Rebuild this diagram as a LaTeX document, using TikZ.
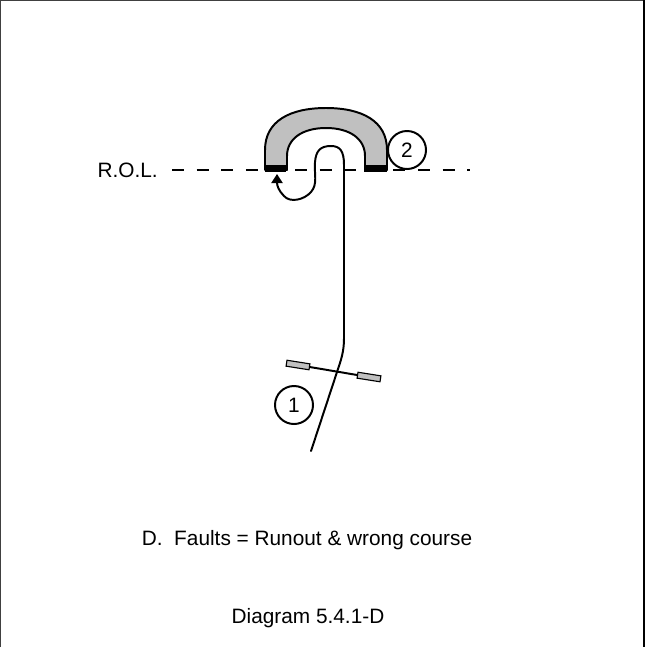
\documentclass[tikz,border=0pt]{standalone}
\usepackage{fontspec}
\setmainfont{Liberation Sans}
\usetikzlibrary{arrows.meta, positioning, calc}

\begin{document}
\begin{tikzpicture}[
    x=0.025cm, y=-0.025cm,
    every node/.style={font=\fontsize{14.8}{17}\selectfont},
]

% ---------------------------------------------------------------- colours
\definecolor{c1}{HTML}{000000}   % lines, paths, outlines
\definecolor{c2}{HTML}{C0C0C0}   % the hoop and its wires
\definecolor{framecolor}{HTML}{404040}

% ---------------------------------------------------------------- styles
\tikzset{
    ballnum/.style={
        circle, draw=c1, line width=1.4pt, inner sep=0pt,
        minimum size=0.95cm, text=c1,
    },
    wire/.style={
        rectangle, draw=c1, line width=0.8pt, fill=c2,
        minimum width=0.58cm, minimum height=0.15cm, inner sep=0pt,
    },
    route/.style={c1, line width=1.4pt, line cap=round, line join=round},
}

\useasboundingbox (0,0) rectangle (648,647);

% ================================================================
% GEOMETRY (one unit = one pixel, y downwards)
%   R.O.L. line   y = 170,  x in [172, 470]
%   hoop          x in [265, 388], top at y = 108
%   wires         centred on (336, 371)
%   captions      y = 540 and y = 618
% ================================================================

% ---------------------------------------------------------------- frame
\draw[framecolor, line width=1pt] (0.7,647) -- (0.7,0.7) -- (644,0.7);
\draw[c1, line width=1.4pt] (644,0) -- (644,647);

% ---------------------------------------------------------------- R.O.L.
\node[anchor=base east, inner sep=0pt, text=c1] (rol) at (158,177) {R.O.L.};
\coordinate (rolA) at (172,170);
\coordinate (rolB) at (470,170);
\draw[c1, line width=2.1pt, dash pattern=on 8.5pt off 9pt] (rolA) -- (rolB);

% ---------------------------------------------------------------- the hoop
\filldraw[fill=c2, draw=c1, line width=1.4pt, line join=round]
    (265,170) -- (265,150)
    .. controls (265,121) and (290,108) .. (326,108)
    .. controls (362,108) and (387,121) .. (387,150)
    -- (387,170) -- (365,170) -- (365,156)
    .. controls (365,139) and (350,128) .. (326,128)
    .. controls (302,128) and (287,139) .. (287,156)
    -- (287,170) -- cycle;
\fill[c1] (265,165) rectangle (286,172);
\fill[c1] (364,165) rectangle (387,172);

\node[ballnum] (two) at (407,150) {2};

% ---------------------------------------------------------------- ball 1
\node[wire, rotate=-9] (w1) at (298,365) {};
\node[wire, rotate=-9] (w2) at (369,377) {};
\draw[c1, line width=1.4pt] (w1) -- (w2);

\node[ballnum] (one) at (294,405) {1};

\coordinate (start) at (311,451);
\coordinate (stop) at (277,174);
\draw[route, -{Triangle[length=6.5pt, width=8pt]}]
    (start) -- (337,372)
    .. controls (341,360) and (344,352) .. (344,338)
    -- (344,165)
    .. controls (344,151) and (340,146) .. (331,146)
    .. controls (320,146) and (316,151) .. (315,162)
    .. controls (314,174) and (318,184) .. (311,192)
    .. controls (304,200) and (290,203) .. (284,196)
    .. controls (279,191) and (277,186) .. (stop);

% ---------------------------------------------------------------- captions
\node[text=c1] (fault) at (307,540) {D.\ \ Faults = Runout \& wrong course};
\node[text=c1] (title) at (308,618) {Diagram 5.4.1-D};

\end{tikzpicture}
\end{document}
